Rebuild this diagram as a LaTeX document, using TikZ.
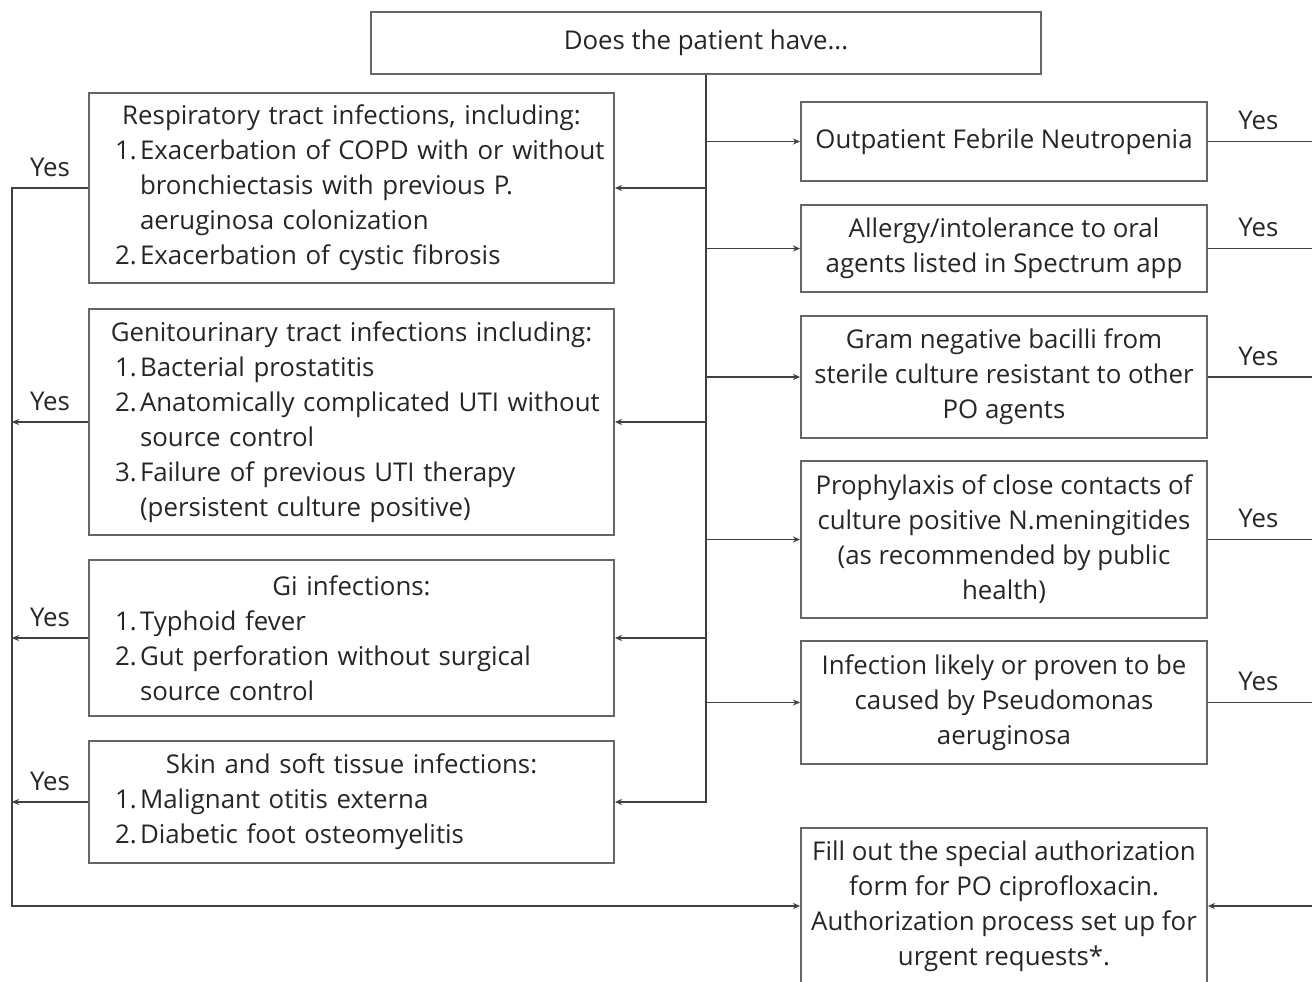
\documentclass[tikz,border=0pt]{standalone}
\usepackage{fontspec}
\setmainfont{Open Sans}
\usetikzlibrary{arrows.meta}

\newcommand{\boxhead}[1]{\makebox[9.46cm]{#1}}
\newcommand{\itemline}[2]{\makebox[0.5cm][l]{#1}\mbox{#2}}
\newcommand{\itemcont}[1]{\hspace*{0.5cm}\mbox{#1}}

\begin{document}
\begin{tikzpicture}[x=0.02cm, y=-0.02cm,
    every node/.style = {font=\fontsize{14.7}{19.9}\selectfont, text=black!85},
    qbox/.style = {draw=black!60, line width=1.2pt, fill=white, align=center, inner sep=0pt},
    lbox/.style = {qbox, minimum width=10.5cm, text width=9.46cm, align=left},
    rbox/.style = {qbox, minimum width=8.12cm},
    link/.style = {draw=black!75, line width=1.1pt},
    arr/.style = {link, -{Stealth[length=4pt, width=3.5pt]}},
    yes/.style = {above=6pt, inner sep=0pt}]
  \useasboundingbox (0,0) rectangle (1312,982);
  \fill[white] (0,0) rectangle (1312,982);
  \clip (0,0) rectangle (1312,982);

  % question
  \node[qbox, minimum width=13.4cm, minimum height=1.24cm] (top) at (706,43) {Does the patient have...};

  % left column
  \node[lbox, minimum height=3.8cm] (resp) at (351.5,188) {%
    \boxhead{Respiratory tract infections, including:}\\
    \itemline{1.}{Exacerbation of COPD with or without}\\
    \itemcont{bronchiectasis with previous P.}\\
    \itemcont{aeruginosa colonization}\\
    \itemline{2.}{Exacerbation of cystic fibrosis}};
  \node[lbox, minimum height=4.52cm] (geni) at (351.5,422) {%
    \boxhead{Genitourinary tract infections including:}\\
    \itemline{1.}{Bacterial prostatitis}\\
    \itemline{2.}{Anatomically complicated UTI without}\\
    \itemcont{source control}\\
    \itemline{3.}{Failure of previous UTI therapy}\\
    \itemcont{(persistent culture positive)}};
  \node[lbox, minimum height=3.12cm] (gi) at (351.5,638) {%
    \boxhead{Gi infections:}\\
    \itemline{1.}{Typhoid fever}\\
    \itemline{2.}{Gut perforation without surgical}\\
    \itemcont{source control}};
  \node[lbox, minimum height=2.44cm] (skin) at (351.5,802) {%
    \boxhead{Skin and soft tissue infections:}\\
    \itemline{1.}{Malignant otitis externa}\\
    \itemline{2.}{Diabetic foot osteomyelitis}};

  % right column
  \node[rbox, minimum height=1.58cm] (ofn) at (1004,141.5) {Outpatient Febrile Neutropenia};
  \node[rbox, minimum height=1.74cm] (allergy) at (1004,248.5) {Allergy/intolerance to oral\\agents listed in Spectrum app};
  \node[rbox, minimum height=2.44cm] (gram) at (1004,377) {Gram negative bacilli from\\sterile culture resistant to other\\PO agents};
  \node[rbox, minimum height=3.14cm] (proph) at (1004,539.5) {Prophylaxis of close contacts of\\culture positive N.meningitides\\(as recommended by public\\health)};
  \node[rbox, minimum height=2.46cm] (infect) at (1004,702.5) {Infection likely or proven to be\\caused by Pseudomonas\\aeruginosa};
  \node[rbox, minimum height=3.12cm] (fill) at (1004,906) {Fill out the special authorization\\form for PO ciprofloxacin.\\Authorization process set up for\\urgent requests*.};

  \coordinate (lbus) at (12,0);
  \coordinate (rbus) at (1320,0);

  % trunk and branches
  \draw[arr] (top.south) |- (skin.east);
  \foreach \n in {resp, geni, gi}
    \draw[arr] (top.south |- \n.east) -- (\n.east);
  \foreach \n in {ofn, allergy, gram, proph, infect}
    \draw[arr] (top.south |- \n.west) -- (\n.west);

  % yes paths, left
  \draw[arr] (resp.west) -| node[pos=0.25, yes] {Yes} (lbus |- fill.west) -- (fill.west);
  \foreach \n in {geni, gi, skin}
    \draw[arr] (\n.west) -- node[yes] {Yes} (lbus |- \n.west);

  % yes paths, right
  \foreach \n in {ofn, allergy, gram, proph, infect}
    \draw[link] (\n.east) -- node[pos=0.45, yes] {Yes} (rbus |- \n.east);
  \draw[arr] (rbus |- ofn.east) -- (rbus |- fill.east) -- (fill.east);
\end{tikzpicture}
\end{document}
